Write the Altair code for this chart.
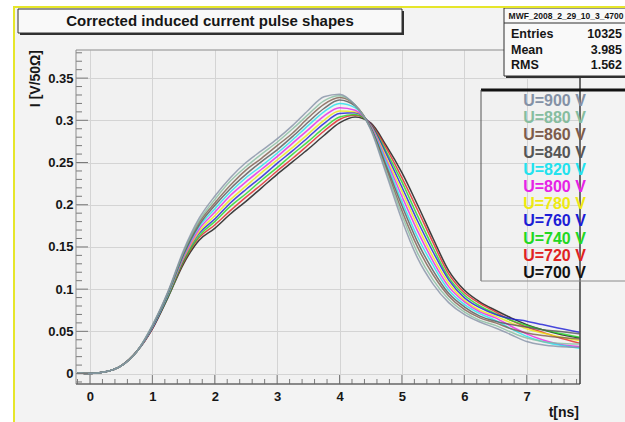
import altair as alt
import pandas as pd

# Sample times of the averaged pulses (ns)
t_ns = [-0.2, 0.0, 0.25, 0.5, 0.75, 1.0, 1.25, 1.5, 1.75, 2.0, 2.25, 2.5, 2.75,
        3.0, 3.25, 3.5, 3.75, 4.0, 4.25, 4.5, 4.75, 5.0, 5.25, 5.5, 5.75, 6.0,
        6.25, 6.5, 6.75, 7.0, 7.25, 7.5, 7.85]

# Induced current I [V/50 Ohm] for each drift voltage
u700 = [0.001, 0.000, 0.002, 0.009, 0.026, 0.053, 0.090, 0.130, 0.158, 0.172, 0.189, 0.204, 0.220,
        0.236, 0.251, 0.266, 0.282, 0.297, 0.304, 0.297, 0.270, 0.238, 0.200, 0.160, 0.122, 0.099,
        0.085, 0.075, 0.066, 0.058, 0.052, 0.047, 0.042]
u720 = [0.001, 0.000, 0.002, 0.009, 0.026, 0.053, 0.091, 0.132, 0.161, 0.176, 0.193, 0.209, 0.224,
        0.240, 0.255, 0.271, 0.287, 0.301, 0.306, 0.296, 0.267, 0.232, 0.194, 0.155, 0.118, 0.096,
        0.083, 0.073, 0.063, 0.055, 0.049, 0.043, 0.036]
u740 = [0.001, 0.000, 0.002, 0.009, 0.026, 0.054, 0.091, 0.133, 0.163, 0.180, 0.198, 0.213, 0.229,
        0.244, 0.260, 0.275, 0.291, 0.304, 0.307, 0.295, 0.263, 0.227, 0.187, 0.149, 0.114, 0.093,
        0.080, 0.071, 0.063, 0.057, 0.052, 0.048, 0.043]
u760 = [0.001, 0.000, 0.002, 0.009, 0.026, 0.054, 0.092, 0.135, 0.166, 0.183, 0.202, 0.218, 0.233,
        0.249, 0.264, 0.280, 0.296, 0.308, 0.309, 0.295, 0.260, 0.221, 0.181, 0.144, 0.111, 0.090,
        0.078, 0.070, 0.065, 0.062, 0.058, 0.054, 0.049]
u780 = [0.001, 0.000, 0.002, 0.009, 0.026, 0.055, 0.093, 0.136, 0.168, 0.187, 0.206, 0.222, 0.238,
        0.253, 0.268, 0.284, 0.300, 0.311, 0.310, 0.294, 0.256, 0.216, 0.175, 0.138, 0.107, 0.087,
        0.075, 0.068, 0.060, 0.053, 0.048, 0.044, 0.039]
u800 = [0.001, 0.000, 0.002, 0.009, 0.026, 0.055, 0.094, 0.138, 0.171, 0.191, 0.211, 0.227, 0.242,
        0.257, 0.273, 0.289, 0.305, 0.315, 0.312, 0.293, 0.253, 0.210, 0.169, 0.133, 0.103, 0.085,
        0.073, 0.066, 0.056, 0.047, 0.040, 0.035, 0.032]
u820 = [0.001, 0.000, 0.002, 0.009, 0.026, 0.055, 0.094, 0.140, 0.174, 0.195, 0.215, 0.232, 0.246,
        0.261, 0.277, 0.294, 0.310, 0.320, 0.315, 0.292, 0.250, 0.204, 0.162, 0.128, 0.099, 0.082,
        0.071, 0.063, 0.053, 0.044, 0.038, 0.034, 0.030]
u840 = [0.001, 0.000, 0.002, 0.009, 0.026, 0.056, 0.095, 0.141, 0.176, 0.199, 0.219, 0.236, 0.251,
        0.265, 0.281, 0.298, 0.314, 0.324, 0.317, 0.291, 0.246, 0.199, 0.156, 0.122, 0.095, 0.079,
        0.068, 0.062, 0.058, 0.055, 0.052, 0.050, 0.047]
u860 = [0.001, 0.000, 0.002, 0.009, 0.026, 0.056, 0.096, 0.143, 0.179, 0.202, 0.223, 0.241, 0.255,
        0.270, 0.285, 0.303, 0.319, 0.327, 0.318, 0.291, 0.243, 0.193, 0.150, 0.117, 0.092, 0.076,
        0.066, 0.060, 0.053, 0.048, 0.045, 0.043, 0.041]
u880 = [0.001, 0.000, 0.002, 0.009, 0.026, 0.057, 0.096, 0.144, 0.181, 0.206, 0.228, 0.245, 0.260,
        0.274, 0.290, 0.307, 0.323, 0.329, 0.318, 0.290, 0.239, 0.188, 0.143, 0.111, 0.088, 0.073,
        0.063, 0.057, 0.049, 0.042, 0.038, 0.036, 0.035]
u900 = [0.001, 0.000, 0.002, 0.009, 0.026, 0.057, 0.097, 0.146, 0.184, 0.210, 0.232, 0.250, 0.264,
        0.278, 0.294, 0.312, 0.328, 0.331, 0.318, 0.289, 0.236, 0.182, 0.137, 0.106, 0.084, 0.070,
        0.061, 0.054, 0.046, 0.038, 0.034, 0.032, 0.031]

# Legend order (top to bottom) and line colours
series_labels = ["U=900 V", "U=880 V", "U=860 V", "U=840 V", "U=820 V", "U=800 V",
                 "U=780 V", "U=760 V", "U=740 V", "U=720 V", "U=700 V"]
series_colors = ["#8491a6", "#86bd9f", "#7d5c4c", "#555555", "#22e2ee", "#e622e6",
                 "#eeea10", "#1c1cd6", "#22d822", "#e02222", "#111111"]
series_values = [u900, u880, u860, u840, u820, u800, u780, u760, u740, u720, u700]

# Statistics box
stats_name = "MWF_2008_2_29_10_3_4700"
stats_keys = ["Entries", "Mean", "RMS"]
stats_vals = ["10325", "3.985", "1.562"]

title_text = "Corrected induced current pulse shapes"
x_title = "t[ns]"
y_title = "I [V/50\u03a9]"

x_major = [0, 1, 2, 3, 4, 5, 6, 7]
y_major = [0, 0.05, 0.1, 0.15, 0.2, 0.25, 0.3, 0.35]
x_minor = [round(-0.2 + 0.2 * i, 2) for i in range(41) if abs(round(-0.2 + 0.2 * i, 2) % 1) > 1e-6]
y_minor = [round(-0.01 + 0.01 * i, 2) for i in range(40) if abs(round((-0.01 + 0.01 * i) / 0.05, 6) % 1) > 1e-6]

# long table, drawn with the 700 V pulse first
rows = []
for lab, vals in reversed(list(zip(series_labels, series_values))):
    for t, v in zip(t_ns, vals):
        rows.append({"t": t, "I": v, "series": lab})
df = pd.DataFrame(rows)

# ---- layout (page pixels) ----
PL, PT = 76, 50          # plot origin
W, H = 504, 334          # plot size
FONT = "Liberation Sans"
INK = "#161616"

x_scale = alt.Scale(domain=[-0.224, 7.855], nice=False, zero=False)
y_scale = alt.Scale(domain=[-0.0124, 0.3833], nice=False, zero=False)
color_scale = alt.Scale(domain=series_labels, range=series_colors)

x_axis = alt.Axis(values=x_major, format="d", grid=True, gridColor="#d4d4d4", gridWidth=1,
                  ticks=False, tickSize=0, domain=False, labelFont=FONT, labelFontWeight="bold",
                  labelFontSize=13, labelColor=INK, labelPadding=6, title=None)
y_axis = alt.Axis(values=y_major, labelExpr="format(datum.value, '~g')", grid=True,
                  gridColor="#d4d4d4", gridWidth=1, ticks=False, tickSize=0, domain=False,
                  labelFont=FONT, labelFontWeight="bold", labelFontSize=13, labelColor=INK,
                  labelPadding=3, title=None)

one = pd.DataFrame({"k": [0]})


def box(x1, y1, x2, y2, **kw):
    return alt.Chart(one).mark_rect(**kw).encode(
        x=alt.value(x1 - PL), x2=alt.value(x2 - PL), y=alt.value(y1 - PT), y2=alt.value(y2 - PT))


def hline(x1, x2, y, **kw):
    return alt.Chart(one).mark_rule(**kw).encode(
        x=alt.value(x1 - PL), x2=alt.value(x2 - PL), y=alt.value(y - PT))


def vline(x, y1, y2, **kw):
    return alt.Chart(one).mark_rule(**kw).encode(
        x=alt.value(x - PL), y=alt.value(y1 - PT), y2=alt.value(y2 - PT))


def label(txt, x, y, size, align="left", color=INK, **kw):
    return alt.Chart(one).mark_text(text=txt, align=align, baseline="middle", fontSize=size,
                                    fontWeight="bold", font=FONT, color=color, **kw).encode(
        x=alt.value(x - PL), y=alt.value(y - PT))


layers = []

# canvas edge outside the highlight border
layers.append(box(0, 0, 14, 422, color="#ffffff"))
layers.append(box(0, 0, 625, 7, color="#ffffff"))

# pulses
layers.append(
    alt.Chart(df).mark_line(strokeWidth=1.5, interpolate="monotone", opacity=0.8).encode(
        x=alt.X("t:Q", scale=x_scale, axis=x_axis),
        y=alt.Y("I:Q", scale=y_scale, axis=y_axis),
        color=alt.Color("series:N", scale=color_scale, legend=None),
    )
)

# inward ticks (same scales and axes as the pulses)
TICK = "#7a7a7a"
layers.append(alt.Chart(pd.DataFrame({"v": y_major})).mark_rule(color=TICK).encode(
    y=alt.Y("v:Q", scale=y_scale, axis=y_axis), x=alt.value(0), x2=alt.value(12)))
layers.append(alt.Chart(pd.DataFrame({"v": y_minor})).mark_rule(color=TICK).encode(
    y=alt.Y("v:Q", scale=y_scale, axis=y_axis), x=alt.value(0), x2=alt.value(6)))
layers.append(alt.Chart(pd.DataFrame({"v": x_major})).mark_rule(color=TICK).encode(
    x=alt.X("v:Q", scale=x_scale, axis=x_axis), y=alt.value(H), y2=alt.value(H - 9)))
layers.append(alt.Chart(pd.DataFrame({"v": x_minor})).mark_rule(color=TICK).encode(
    x=alt.X("v:Q", scale=x_scale, axis=x_axis), y=alt.value(H), y2=alt.value(H - 5)))

# frame
layers.append(box(PL, PT, PL + W, PT + H, fill="transparent", stroke="#8a8a8a", strokeWidth=1))
layers.append(hline(PL, PL + W, PT + H, color="#555555", strokeWidth=1.2))
layers.append(vline(PL + W, PT, PT + H, color="#333333", strokeWidth=1.2))

# axis titles
layers.append(label(x_title, 579, 413, 14, align="right"))
layers.append(label(y_title, 36, 50, 14, align="right", angle=270))

# title box
layers.append(box(20, 11, 404, 35, color="#303030"))
layers.append(box(18, 9, 402, 33, fill="#f9f9f9", stroke="#303030", strokeWidth=1))
layers.append(label(title_text, 210, 21, 15, align="center"))

# statistics box
layers.append(box(506, 10, 628, 78, color="#303030"))
layers.append(box(504, 8, 628, 76, fill="#f9f9f9", stroke="#303030", strokeWidth=1))
layers.append(hline(504, 628, 23, color="#303030", strokeWidth=1))
layers.append(label(stats_name, 566, 16, 8.5, align="center"))
for i, (k, v) in enumerate(zip(stats_keys, stats_vals)):
    yy = 34 + 15.5 * i
    layers.append(label(k, 511, yy, 12.5))
    layers.append(label(v, 622, yy, 12.5, align="right"))

# legend box (transparent) and entries
layers.append(hline(481, 625, 90, color="#111111", strokeWidth=3))
layers.append(vline(481, 90, 281, color="#555555", strokeWidth=1))
layers.append(hline(481, 625, 281, color="#8a8a8a", strokeWidth=1))
for i, (lab, col) in enumerate(zip(series_labels, series_colors)):
    layers.append(label(lab, 554.5, 101 + 17.2 * i, 16, align="center", color=col))

# highlight border of the canvas
layers.append(vline(14, 6, 422, color="#e6e62a", strokeWidth=2))
layers.append(hline(13, 625, 7, color="#e6e62a", strokeWidth=2))

chart = alt.layer(*layers).properties(
    width=W, height=H,
    autosize=alt.AutoSizeParams(type="none"),
    padding={"left": PL, "top": PT, "right": 625 - PL - W, "bottom": 422 - PT - H},
    background="#f3f3f3",
).configure_view(stroke="transparent", fill="#f1f1f1")

chart.save("out.html", embed_options={"renderer": "svg", "actions": False})
